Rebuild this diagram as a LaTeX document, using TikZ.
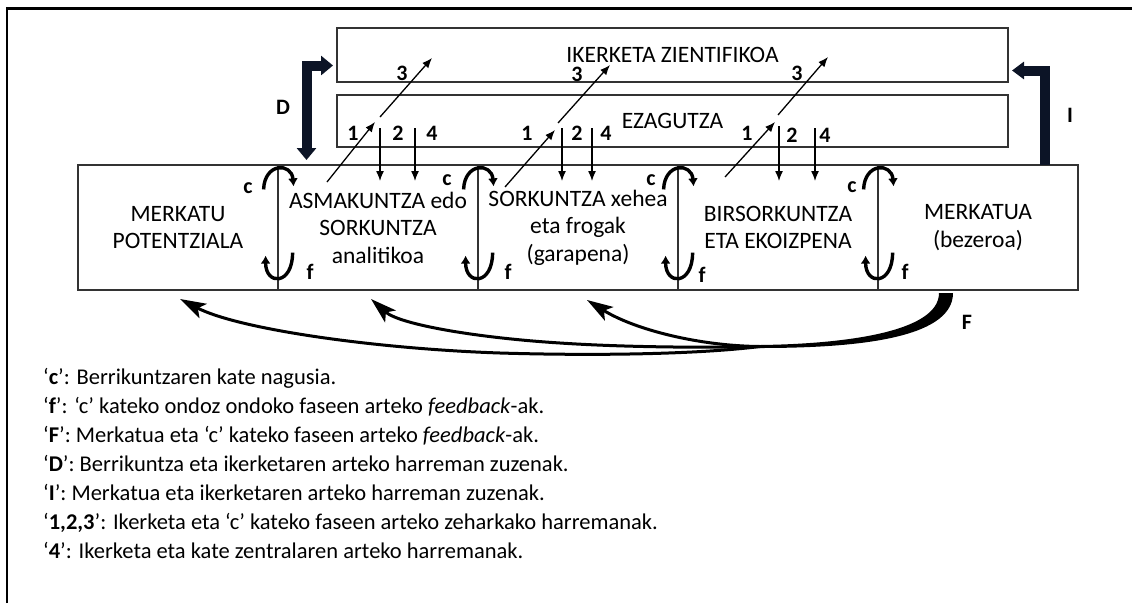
\documentclass[tikz,border=0pt]{standalone}
\usepackage{fontspec}
\setmainfont{Carlito}
\usetikzlibrary{positioning,calc,arrows.meta}
\definecolor{inkblue}{RGB}{12,20,38}
\begin{document}
\begin{tikzpicture}[x=1pt,y=-1pt]
	\tikzstyle{stage} = [draw=black!80, line width=1.2pt, rectangle, minimum height=125pt, minimum width=200pt, inner sep=0pt, node distance=200pt, font=\fontsize{23.5}{27.5}\selectfont]
	\tikzstyle{field} = [draw=black!80, line width=1.2pt, rectangle, minimum width=671pt, inner sep=0pt, font=\fontsize{23.5}{27.5}\selectfont]
	\tikzstyle{tag} = [inner sep=0pt, font=\bfseries\fontsize{22}{22}\selectfont]
	\tikzstyle{link} = [-{Latex[length=10pt,width=8pt]}, line width=1.3pt]
	\tikzstyle{chainarc} = [-{Latex[length=8pt,width=10pt]}, line width=3.4pt]
	\tikzstyle{direct} = [draw=inkblue, line width=10pt]
	\tikzstyle{feed} = [-{Stealth[length=26pt,width=16pt,inset=6pt]}, line width=3pt]
	\tikzstyle{legend} = [anchor=base west, inner sep=0pt, font=\fontsize{22.5}{27}\selectfont]

	\useasboundingbox (0,0) rectangle (1132,603);
	\draw[line width=2.5pt] (7,603) -- (7,8.5) -- (1132,8.5);

	% research and knowledge
	\node[field, minimum height=54pt] (iker) at (672.5,55) {IKERKETA ZIENTIFIKOA};
	\node[field, minimum height=52pt] (ezag) at (672.5,121) {EZAGUTZA};

	% central chain
	\node[stage] (merkpot) at (178,227.5) {\begin{minipage}{190pt}
		\centering
		MERKATU \\
		POTENTZIALA
	\end{minipage}};
	\node[stage] (asmak) [right of=merkpot] {\begin{minipage}{190pt}
		\centering
		ASMAKUNTZA edo \\
		SORKUNTZA \\
		analitikoa
	\end{minipage}};
	\node[stage] (sorkun) [right of=asmak] {\begin{minipage}{190pt}
		\centering
		SORKUNTZA xehea \\
		eta frogak \\
		(garapena)
	\end{minipage}};
	\node[stage] (birsor) [right of=sorkun] {\begin{minipage}{190pt}
		\centering
		BIRSORKUNTZA \\
		ETA EKOIZPENA
	\end{minipage}};
	\node[stage] (merk) [right of=birsor] {\begin{minipage}{190pt}
		\centering
		MERKATUA \\
		(bezeroa)
	\end{minipage}};

	% c and f between phases
	\foreach \s in {merkpot,asmak,sorkun,birsor} {
		\draw[chainarc] ($(\s.north east)+(-15,25)$) .. controls +(1,-27) and +(-2,-24) .. ($(\s.north east)+(15,22)$);
		\draw[chainarc] ($(\s.south east)+(14,-38)$) .. controls +(0,33) and +(0,30) .. ($(\s.south east)+(-13,-35)$);
	}
	\node[tag] (c1) at (248,188) {c};
	\node[tag] (f1) at (310,272) {f};
	\node[tag] (c2) at (447,180) {c};
	\node[tag] (f2) at (508,272) {f};
	\node[tag] (c3) at (651,180) {c};
	\node[tag] (f3) at (702,275) {f};
	\node[tag] (c4) at (852,187) {c};
	\node[tag] (f4) at (905,272) {f};

	% links with research
	\coordinate (oneAs) at (327,182);  \coordinate (oneAe) at (375,122);
	\coordinate (thrAs) at (380,117);  \coordinate (thrAe) at (432,58);
	\coordinate (twoAs) at (380,128);  \coordinate (twoAe) at (380,181);
	\coordinate (fouAs) at (415,128);  \coordinate (fouAe) at (415,181);
	\coordinate (oneBs) at (505,187);  \coordinate (oneBe) at (555,130);
	\coordinate (thrBs) at (558,123);  \coordinate (thrBe) at (610,65);
	\coordinate (twoBs) at (562,128);  \coordinate (twoBe) at (562,181);
	\coordinate (fouBs) at (592,128);  \coordinate (fouBe) at (592,181);
	\coordinate (oneCs) at (725,177);  \coordinate (oneCe) at (775,122);
	\coordinate (thrCs) at (778,115);  \coordinate (thrCe) at (828,57);
	\coordinate (twoCs) at (779,126);  \coordinate (twoCe) at (779,181);
	\coordinate (fouCs) at (815,128);  \coordinate (fouCe) at (815,181);
	\foreach \k in {A,B,C} {
		\draw[link] (one\k s) -- (one\k e);
		\draw[link] (thr\k s) -- (thr\k e);
		\draw[link] (two\k s) -- (two\k e);
		\draw[link] (fou\k s) -- (fou\k e);
	}
	\node[tag] (n1a) at (353,133) {1};
	\node[tag] (n2a) at (398,133) {2};
	\node[tag] (n4a) at (432,133) {4};
	\node[tag] (n3a) at (402,73) {3};
	\node[tag] (n1b) at (527,133) {1};
	\node[tag] (n2b) at (577,133) {2};
	\node[tag] (n4b) at (606,133) {4};
	\node[tag] (n3b) at (577,74) {3};
	\node[tag] (n1c) at (747,133) {1};
	\node[tag] (n2c) at (792,135) {2};
	\node[tag] (n4c) at (825,135) {4};
	\node[tag] (n3c) at (797,73) {3};

	% direct links D and I
	\coordinate (dfoot) at (306.5,160);
	\coordinate (dhead) at (333,65.5);
	\coordinate (ifoot) at (1045,165);
	\coordinate (ihead) at (1012,70.5);
	\draw[direct, {Triangle[length=12pt,width=19pt]}-{Triangle[length=12pt,width=19pt]}] (dfoot) |- (dhead);
	\draw[direct, -{Triangle[length=12pt,width=17pt]}] (ifoot) |- (ihead);
	\node[tag] (dlab) at (283,107) {D};
	\node[tag] (ilab) at (1070,115) {I};

	% feedback F from the market
	\coordinate (fjoin) at (760,346.5);
	\coordinate (fto1) at (180,299);
	\coordinate (fto2) at (371,299);
	\coordinate (fto3) at (587,300);
	\fill (939,293) .. controls (939,333) and (840,344) .. (760,345) -- (760,348) .. controls (850,348) and (953,340) .. (953,293) -- cycle;
	\draw[feed] (fjoin) .. controls (700,354) and (600,356) .. (500,353) .. controls (380,349) and (240,330) .. (fto1);
	\draw[feed] (fjoin) .. controls (700,348) and (620,347) .. (560,343) .. controls (480,338) and (400,325) .. (fto2);
	\draw[feed] (fjoin) .. controls (700,346) and (635,330) .. (fto3);
	\node[tag] (flab) at (967,322) {F};

	% legend
	\node[legend] (leg1) at (43,384) {‘\textbf{c}’: Berrikuntzaren kate nagusia.};
	\node[legend] (leg2) at (43,413) {‘\textbf{f}’: ‘c’ kateko ondoz ondoko faseen arteko \textit{feedback}-ak.};
	\node[legend] (leg3) at (43,442) {‘\textbf{F}’: Merkatua eta ‘c’ kateko faseen arteko \textit{feedback}-ak.};
	\node[legend] (leg4) at (43,471) {‘\textbf{D}’: Berrikuntza eta ikerketaren arteko harreman zuzenak.};
	\node[legend] (leg5) at (43,500) {‘\textbf{I}’: Merkatua eta ikerketaren arteko harreman zuzenak.};
	\node[legend] (leg6) at (43,529) {‘\textbf{1,2,3}’: Ikerketa eta ‘c’ kateko faseen arteko zeharkako harremanak.};
	\node[legend] (leg7) at (43,558) {‘\textbf{4}’: Ikerketa eta kate zentralaren arteko harremanak.};
\end{tikzpicture}
\end{document}
